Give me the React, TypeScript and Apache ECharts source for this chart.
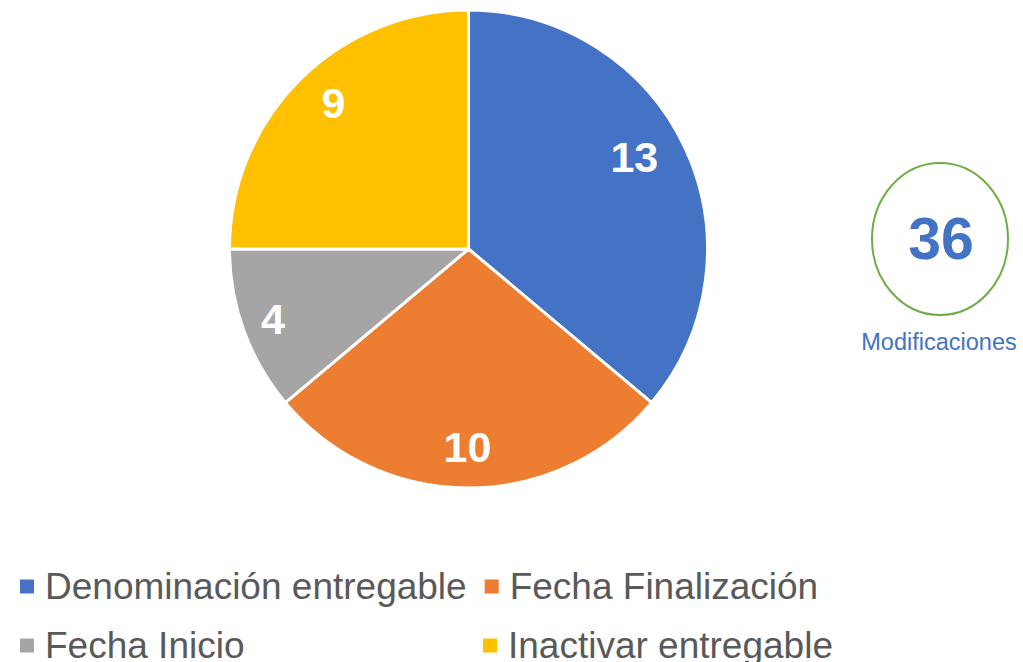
import React, { useEffect, useRef } from "react";
import * as echarts from "echarts";

const categories = ["Denominación entregable", "Fecha Finalización", "Fecha Inicio", "Inactivar entregable"];
const values = [13, 10, 4, 9];
const colors = ["#4472C4", "#ED7D31", "#A5A5A5", "#FFC000"];
// label nudges [dx, dy] to mimic the reference's best-fit placement
const labelNudges = [
  [-15, -8],
  [-1, -2],
  [-8, 2],
  [6, -5],
];
const totalLabel = "Modificaciones";

export default function App() {
  const ref = useRef<HTMLDivElement>(null);
  useEffect(() => {
    if (!ref.current) return;
    const chart = echarts.init(ref.current, null, { renderer: "svg" });
    const total = values.reduce((a, b) => a + b, 0);
    const data = categories.map((name, i) => ({ name, value: values[i], itemStyle: { color: colors[i] } }));
    const font = "Arial, 'Liberation Sans', sans-serif";
    chart.setOption({
      animation: false,
      backgroundColor: "#ffffff",
      legend: {
        data: categories,
        left: 20,
        top: 566,
        width: 1000,
        padding: 0,
        icon: "rect",
        itemWidth: 14,
        itemHeight: 14,
        itemGap: 18,
        selectedMode: false,
        itemStyle: { borderWidth: 0, borderColor: "transparent" },
        textStyle: {
          fontFamily: font,
          fontSize: 37,
          color: "#595959",
          width: 420,
          lineHeight: 41,
          padding: [0, 0, 0, 6],
        },
      },
      series: [
        {
          type: "pie",
          center: [468.5, 249],
          radius: [0, 239],
          startAngle: 90,
          clockwise: true,
          silent: true,
          label: { show: false },
          labelLine: { show: false },
          itemStyle: { borderColor: "#ffffff", borderWidth: 3 },
          data,
        },
        {
          type: "pie",
          center: [468.5, 249],
          radius: [154, 239],
          startAngle: 90,
          clockwise: true,
          silent: true,
          itemStyle: { color: "rgba(0,0,0,0)", borderWidth: 0 },
          label: {
            show: true,
            position: "inside",
            formatter: "{c}",
            color: "#ffffff",
            fontFamily: font,
            fontWeight: "bold",
            fontSize: 43,
          },
          labelLine: { show: false },
          data: categories.map((name, i) => ({ name, value: values[i], label: { offset: labelNudges[i] } })),
        },
      ],
      graphic: [
        {
          type: "ellipse",
          shape: { cx: 940, cy: 239, rx: 68, ry: 76 },
          style: { fill: "none", stroke: "#70AD47", lineWidth: 2 },
        },
        {
          type: "text",
          x: 941,
          y: 239,
          style: {
            text: String(total),
            fill: "#4472C4",
            font: `bold 59px ${font}`,
            textAlign: "center",
            textVerticalAlign: "middle",
          },
        },
        {
          type: "text",
          x: 939,
          y: 342,
          style: {
            text: totalLabel,
            fill: "#4472C4",
            font: `23.5px ${font}`,
            textAlign: "center",
            textVerticalAlign: "middle",
          },
        },
      ],
    });
    return () => chart.dispose();
  }, []);
  return <div ref={ref} style={{ position: "fixed", left: 0, top: 0, width: 1023, height: 662 }} />;
}
